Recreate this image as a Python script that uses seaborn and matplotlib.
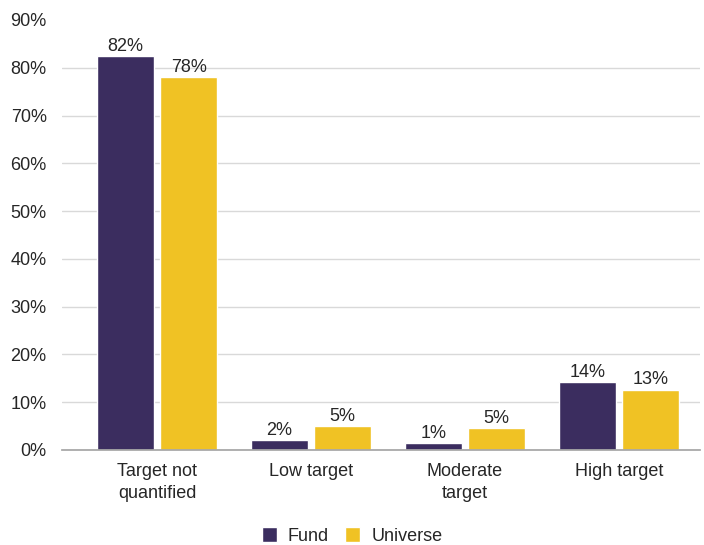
import pandas as pd
import matplotlib.pyplot as plt
import seaborn as sns

categories = ['Target not\nquantified', 'Low target', 'Moderate\ntarget', 'High target']
fund = [82.4, 2.1, 1.4, 14.2]
universe = [78.0, 5.0, 4.6, 12.6]
fund_labels = ['82%', '2%', '1%', '14%']
universe_labels = ['78%', '5%', '5%', '13%']
series = ['Fund', 'Universe']
colors = ['#3b2d5f', '#f0c224']

df = pd.DataFrame({
    'category': categories * 2,
    'value': fund + universe,
    'series': ['Fund'] * len(categories) + ['Universe'] * len(categories),
})

sns.set_theme(style='white')
plt.rcParams['font.family'] = ['Liberation Sans', 'DejaVu Sans']

fig = plt.figure(figsize=(7.04, 5.45), dpi=100)
ax = fig.add_axes([62 / 704, 95 / 545, 638 / 704, 430 / 545])

sns.barplot(data=df, x='category', y='value', hue='series', hue_order=series,
            palette=colors, width=0.82, gap=0.11, saturation=1, ax=ax, legend=True)

for container, labels in zip(ax.containers, [fund_labels, universe_labels]):
    ax.bar_label(container, labels=labels, padding=1, fontsize=13, color='#262626')

ax.set_ylim(0, 90)
ax.set_xlim(-0.617, 3.526)
ax.set_yticks(range(0, 91, 10))
ax.set_yticklabels([f'{v}%' for v in range(0, 91, 10)])
ax.yaxis.grid(True, color='#d9d9d9', linewidth=1)
ax.set_axisbelow(True)
ax.get_ygridlines()[-1].set_visible(False)
for side in ['top', 'right', 'left']:
    ax.spines[side].set_visible(False)
ax.spines['bottom'].set_color('#a6a6a6')
ax.tick_params(axis='y', labelsize=13, pad=11, length=0, colors='#262626')
ax.tick_params(axis='x', labelsize=13, pad=9, length=0, colors='#262626')
for lbl in ax.get_xticklabels():
    lbl.set_linespacing(1.4)
ax.set_xlabel('')
ax.set_ylabel('')

handles, labels = ax.get_legend_handles_labels()
ax.legend_.remove()
fig.legend(handles, labels, loc='center', bbox_to_anchor=(0.5, 9 / 545), ncol=2,
           frameon=False, fontsize=13, handlelength=0.85, handleheight=0.85,
           handletextpad=0.6, columnspacing=0.9, labelcolor='#262626')

fig.savefig('out.png', dpi=100)
